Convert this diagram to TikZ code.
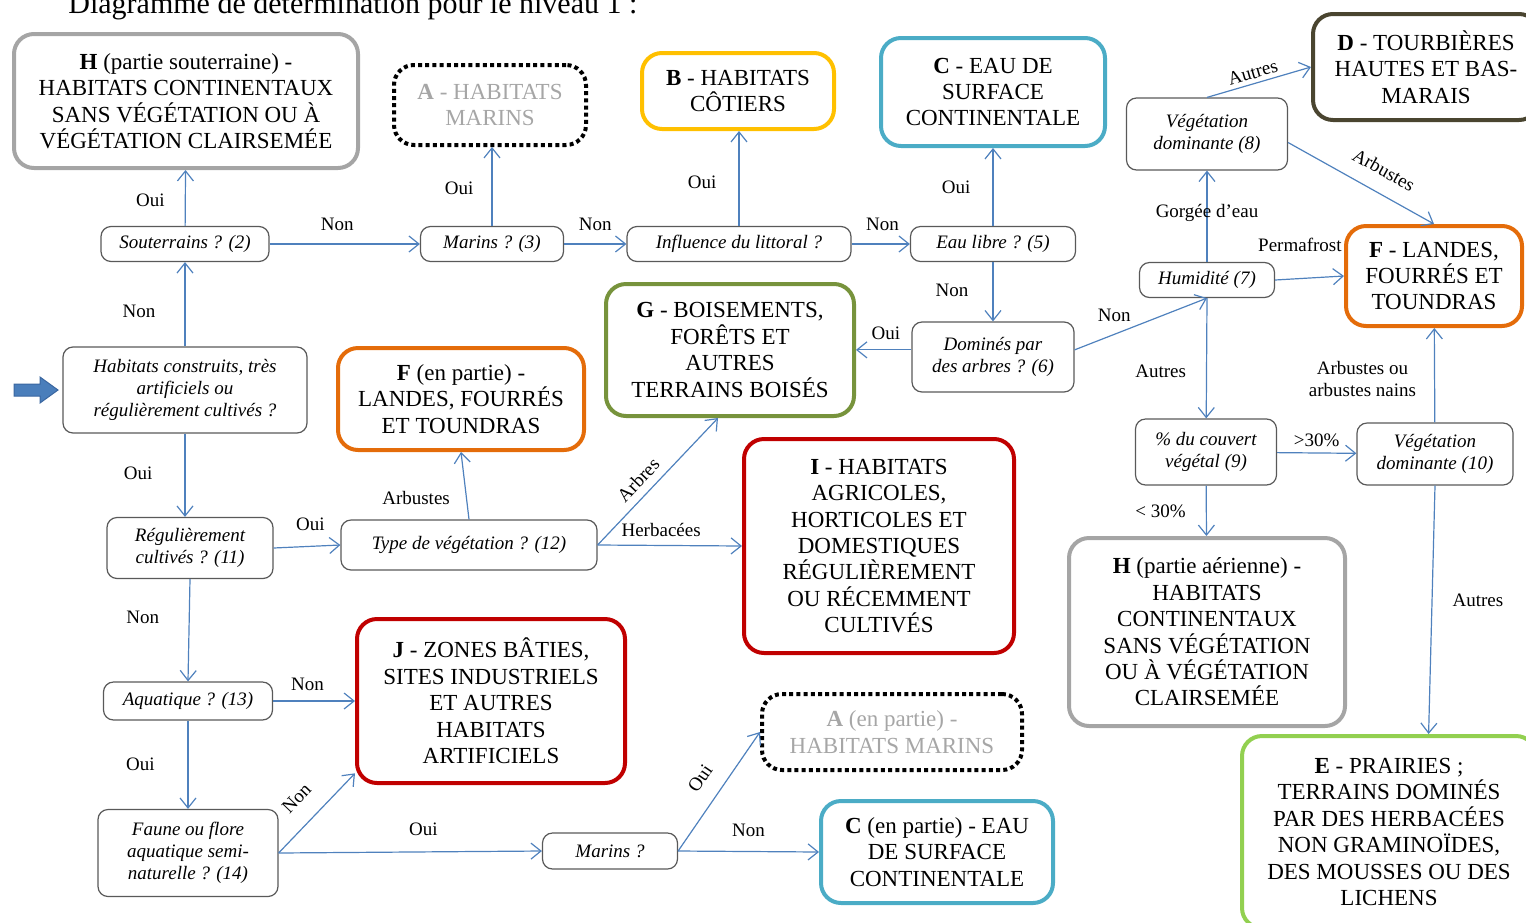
\documentclass[tikz,border=0pt]{standalone}
\usepackage{fontspec}
\setmainfont{Liberation Serif}
\usetikzlibrary{arrows.meta}
\definecolor{linkblue}{HTML}{4F81BD}
\definecolor{bigblue}{HTML}{4A7EBB}
\definecolor{bigedge}{HTML}{3A66A0}
\definecolor{qgray}{HTML}{595959}
\definecolor{hgray}{HTML}{A5A5A5}
\definecolor{agray}{HTML}{A6A6A6}
\definecolor{yellowB}{HTML}{FFC000}
\definecolor{cyanC}{HTML}{4BACC6}
\definecolor{darkD}{HTML}{4A4530}
\definecolor{orangeF}{HTML}{E46C0A}
\definecolor{greenG}{HTML}{77933C}
\definecolor{redI}{HTML}{C00000}
\definecolor{greenE}{HTML}{92D050}
\begin{document}
\begin{tikzpicture}[x=0.5pt,y=-0.5pt,
    >={Straight Barb[length=5pt,width=8pt]},
    res/.style={draw,line width=2pt,rounded corners=10pt,align=center,
      font=\fontsize{11.5}{13.2}\selectfont,inner sep=2pt},
    ques/.style={draw=qgray,line width=0.6pt,rounded corners=5pt,align=center,
      font=\fontsize{9.5}{11}\selectfont\itshape,inner sep=1pt},
    lbl/.style={font=\fontsize{9.5}{11}\selectfont,inner sep=1pt,align=center},
    link/.style={->,draw=linkblue,line width=0.6pt}]
  \useasboundingbox (0,0) rectangle (1526,922);
  \node[anchor=base west,inner sep=0,font=\fontsize{15}{18}\selectfont] (title) at (68,13) {Diagramme de détermination pour le niveau 1 :};

  % habitats (results)
  \node[res,draw=hgray,minimum width=172pt,minimum height=67pt] (Hs) at (186,101) {\textbf{H} (partie souterraine) -\\HABITATS CONTINENTAUX\\SANS VÉGÉTATION OU À\\VÉGÉTATION CLAIRSEMÉE};
  \node[res,draw=black,dash pattern=on 2pt off 1.6pt,text=agray,minimum width=96pt,minimum height=40pt] (Am) at (490,105) {\textbf{A} - HABITATS\\MARINS};
  \node[res,draw=yellowB,minimum width=96pt,minimum height=38pt] (B) at (738,91) {\textbf{B} - HABITATS\\CÔTIERS};
  \node[res,draw=cyanC,minimum width=112pt,minimum height=54pt] (C) at (993,92) {\textbf{C} - EAU DE\\SURFACE\\CONTINENTALE};
  \node[res,draw=darkD,minimum width=113pt,minimum height=53pt] (D) at (1426,67) {\textbf{D} - TOURBIÈRES\\HAUTES ET BAS-\\MARAIS};
  \node[res,draw=orangeF,minimum width=88pt,minimum height=50pt] (F) at (1434,276) {\textbf{F} - LANDES,\\FOURRÉS ET\\TOUNDRAS};
  \node[res,draw=greenG,minimum width=124pt,minimum height=66pt] (G) at (730,350) {\textbf{G} - BOISEMENTS,\\FORÊTS ET\\AUTRES\\TERRAINS BOISÉS};
  \node[res,draw=orangeF,minimum width=123pt,minimum height=51pt] (Fp) at (461,399) {\textbf{F} (en partie) -\\LANDES, FOURRÉS\\ET TOUNDRAS};
  \node[res,draw=redI,minimum width=135pt,minimum height=107pt] (I) at (879,546) {\textbf{I} - HABITATS\\AGRICOLES,\\HORTICOLES ET\\DOMESTIQUES\\RÉGULIÈREMENT\\OU RÉCEMMENT\\CULTIVÉS};
  \node[res,draw=redI,minimum width=134pt,minimum height=82pt] (J) at (491,701) {\textbf{J} - ZONES BÂTIES,\\SITES INDUSTRIELS\\ET AUTRES\\HABITATS\\ARTIFICIELS};
  \node[res,draw=black,dash pattern=on 2pt off 1.6pt,text=agray,minimum width=130pt,minimum height=38pt] (Ap) at (892,732) {\textbf{A} (en partie) -\\HABITATS MARINS};
  \node[res,draw=cyanC,minimum width=116pt,minimum height=51pt] (Cp) at (937,852) {\textbf{C} (en partie) - EAU\\DE SURFACE\\CONTINENTALE};
  \node[res,draw=hgray,minimum width=138pt,minimum height=94pt] (Ha) at (1207,632) {\textbf{H} (partie aérienne) -\\HABITATS\\CONTINENTAUX\\SANS VÉGÉTATION\\OU À VÉGÉTATION\\CLAIRSEMÉE};
  \node[res,draw=greenE,minimum width=147pt,minimum height=96pt] (E) at (1389,832) {\textbf{E} - PRAIRIES ;\\TERRAINS DOMINÉS\\PAR DES HERBACÉES\\NON GRAMINOÏDES,\\DES MOUSSES OU DES\\LICHENS};

  % questions
  \node[ques,minimum width=122pt,minimum height=43pt] (q1) at (185,390) {Habitats construits, très\\artificiels ou\\régulièrement cultivés ?};
  \node[ques,minimum width=84pt,minimum height=17.5pt] (q2) at (185,244) {Souterrains ? (2)};
  \node[ques,minimum width=71.5pt,minimum height=17.5pt] (q3) at (492,244) {Marins ? (3)};
  \node[ques,minimum width=112pt,minimum height=17.5pt] (q4) at (739,244) {Influence du littoral ?};
  \node[ques,minimum width=82.5pt,minimum height=17.5pt] (q5) at (993,244) {Eau libre ? (5)};
  \node[ques,minimum width=81pt,minimum height=35pt] (q6) at (993,357) {Dominés par\\des arbres ? (6)};
  \node[ques,minimum width=67.5pt,minimum height=17.5pt] (q7) at (1207,280) {Humidité (7)};
  \node[ques,minimum width=80.5pt,minimum height=36pt] (q8) at (1207,134) {Végétation\\dominante (8)};
  \node[ques,minimum width=70.5pt,minimum height=33pt] (q9) at (1206,452) {\% du couvert\\végétal (9)};
  \node[ques,minimum width=78pt,minimum height=31pt] (q10) at (1435,454) {Végétation\\dominante (10)};
  \node[ques,minimum width=83pt,minimum height=30.5pt] (q11) at (190,548) {Régulièrement\\cultivés ? (11)};
  \node[ques,minimum width=128pt,minimum height=25pt] (q12) at (469,545) {Type de végétation ? (12)};
  \node[ques,minimum width=84.5pt,minimum height=19pt] (q13) at (188,701) {Aquatique ? (13)};
  \node[ques,minimum width=90pt,minimum height=43.5pt] (q14) at (188,853) {Faune ou flore\\aquatique semi-\\naturelle ? (14)};
  \node[ques,minimum width=67.5pt,minimum height=18pt] (q15) at (610,851) {Marins ?};

  % entry arrow
  \filldraw[fill=bigblue,draw=bigedge,line width=0.5pt] (14,384) -- (40,384) -- (40,377) -- (58,390) -- (40,403) -- (40,396) -- (14,396) -- cycle;

  % connectors
  \draw[link] (q1) -- (q2) node[lbl,pos=0.42,left=13.5pt] {Non};
  \draw[link] (q2) -- (Hs) node[lbl,pos=0.46,left=9pt] {Oui};
  \draw[link] (q2) -- (q3) node[lbl,pos=0.45,above=5.5pt] {Non};
  \draw[link] (q3) -- (q3 |- Am.south) node[lbl,pos=0.475,left=8pt] {Oui};
  \draw[link] (q3) -- (q4) node[lbl,pos=0.5,above=5.5pt] {Non};
  \draw[link] (q4) -- (q4 |- B.south) node[lbl,pos=0.46,left=10pt] {Oui};
  \draw[link] (q4) -- (q5) node[lbl,pos=0.53,above=5.5pt] {Non};
  \draw[link] (q5) -- (C) node[lbl,pos=0.5,left=10pt] {Oui};
  \draw[link] (q5) -- (q6) node[lbl,pos=0.48,left=11pt] {Non};
  \draw[link] (q6.175) -- (G.east |- q6.175) node[lbl,pos=0.46,above=4pt] {Oui};
  \draw[link] (q6.5) -- (q7.south) node[lbl,pos=0.3,above=5pt] {Non};
  \draw[link] (q7) -- (q8) node[lbl,pos=0.54] {Gorgée d’eau};
  \draw[link] (q7.east) -- (F.west) node[lbl,pos=0.36,above=12pt] {Permafrost};
  \draw[link] (q7.south) -- (q9) node[lbl,pos=0.61,left=9pt] {Autres};
  \draw[link] (q8.north) -- (D.west) node[lbl,pos=0.47,sloped,above=1pt] {Autres};
  \draw[link] (q8.-6) -- (F.north) node[lbl,pos=0.58,sloped,above=6.8pt] {Arbustes};
  \draw[link] (q9) -- (q10) node[lbl,pos=0.5,above=2pt] {>30\%};
  \draw[link] (q9) -- (Ha) node[lbl,pos=0.5,left=9pt] {< 30\%};
  \draw[link] (q10) -- (F) node[lbl,pos=0.46,left=8pt] {Arbustes ou\\arbustes nains};
  \draw[link] (q10.south) -- (E.68) node[lbl,pos=0.46,right=9pt] {Autres};
  \draw[link] (q1.south) -- (q1.south |- q11.north) node[lbl,pos=0.48,left=15pt] {Oui};
  \draw[link] (q11.east) -- (q12.west) node[lbl,pos=0.55,above=6.5pt] {Oui};
  \draw[link] (q12.north) -- (Fp.south) node[lbl,pos=0.32,left=7pt] {Arbustes};
  \draw[link] (q12.east) -- (G.-100) node[lbl,pos=0.43,sloped,above=3pt] {Arbres};
  \draw[link] (q12.east) -- (I.west) node[lbl,pos=0.44,above=3pt] {Herbacées};
  \draw[link] (q11.south) -- (q13.north) node[lbl,pos=0.375,left=13.8pt] {Non};
  \draw[link] (q13.east) -- (J.west) node[lbl,pos=0.42,above=3.7pt] {Non};
  \draw[link] (q13.south) -- (q14.north) node[lbl,pos=0.5,left=15.4pt] {Oui};
  \draw[link] (q14.east) -- (J.208) node[lbl,pos=0.47,sloped,above=8pt] {Non};
  \draw[link] (q14.east) -- (q15.west) node[lbl,pos=0.55,above=6.7pt] {Oui};
  \draw[link] (q15.east) -- (Ap.west) node[lbl,pos=0.5,sloped,above=7pt] {Oui};
  \draw[link] (q15.east) -- (Cp.west) node[lbl,pos=0.5,above=6.2pt] {Non};
\end{tikzpicture}
\end{document}
